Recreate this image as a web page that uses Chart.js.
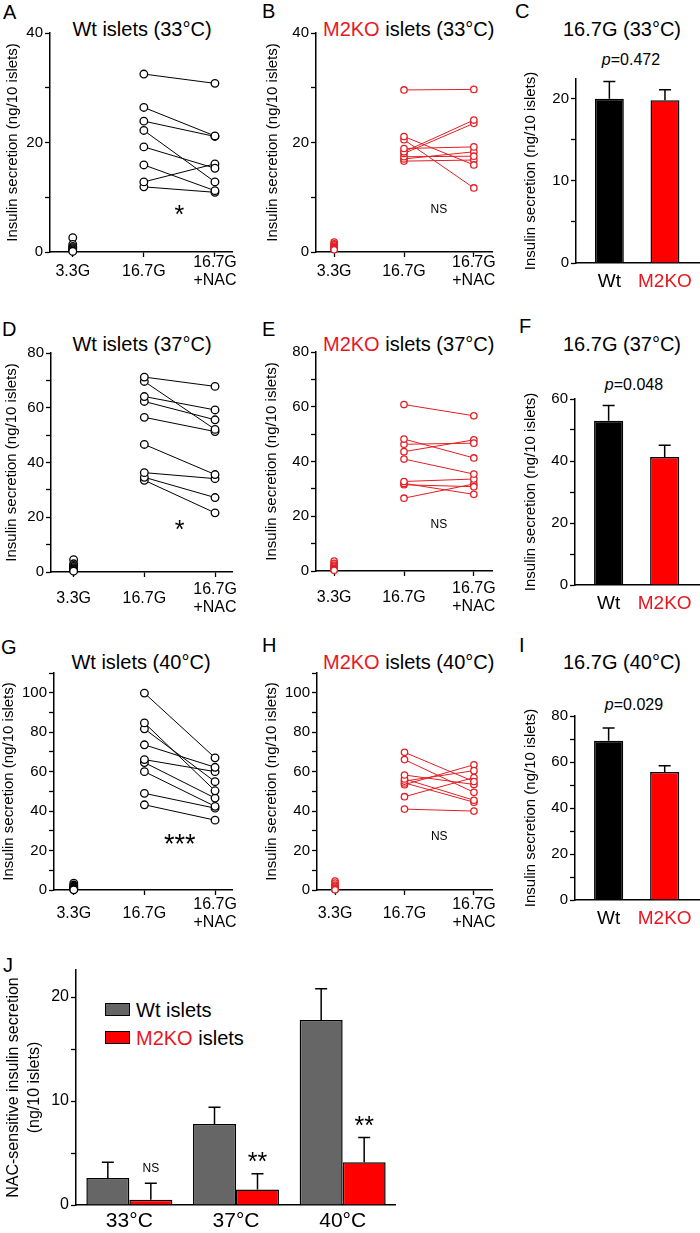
<!DOCTYPE html>
<html>
<head>
<meta charset="utf-8">
<script src="https://cdn.jsdelivr.net/npm/chart.js@4.4.0/dist/chart.umd.min.js"></script>
<style>
  body { margin: 0; background: #fff; width: 700px; height: 1233px; position: relative; overflow: hidden;
         font-family: "Liberation Sans", Arial, sans-serif; color: #000; }
  canvas { position: absolute; }
  .t { position: absolute; white-space: nowrap; line-height: 1; }
  .c { transform: translate(-50%, -50%); }
  .l { transform: translate(0, -50%); }
  .letter { font-size: 20px; }
  .ttl { font-size: 20px; }
  .pv { font-size: 16px; }
  .red { color: #e8171f; }
  .box { position: absolute; width: 25px; height: 13px; box-sizing: border-box; border: 1.5px solid #000; }
  .leg { font-size: 20px; }
</style>
</head>
<body>
<!-- panel letters -->
<div class="t letter l" style="left:3px;top:12px">A</div>
<div class="t letter l" style="left:262px;top:11px">B</div>
<div class="t letter l" style="left:515px;top:11px">C</div>
<div class="t letter l" style="left:2px;top:329px">D</div>
<div class="t letter l" style="left:262px;top:329px">E</div>
<div class="t letter l" style="left:519px;top:326px">F</div>
<div class="t letter l" style="left:1px;top:647px">G</div>
<div class="t letter l" style="left:262px;top:645px">H</div>
<div class="t letter l" style="left:519px;top:645px">I</div>
<div class="t letter l" style="left:3px;top:965px">J</div>

<!-- titles -->
<div class="t ttl c" style="left:142px;top:29px">Wt islets (33°C)</div>
<div class="t ttl l" style="left:323px;top:29px"><span class="red">M2KO</span> islets (33°C)</div>
<div class="t ttl c" style="left:622px;top:29px">16.7G (33°C)</div>
<div class="t ttl c" style="left:142px;top:344px">Wt islets (37°C)</div>
<div class="t ttl l" style="left:323px;top:344px"><span class="red">M2KO</span> islets (37°C)</div>
<div class="t ttl c" style="left:622px;top:344px">16.7G (37°C)</div>
<div class="t ttl c" style="left:141px;top:662px">Wt islets (40°C)</div>
<div class="t ttl l" style="left:323px;top:662px"><span class="red">M2KO</span> islets (40°C)</div>
<div class="t ttl c" style="left:622px;top:662px">16.7G (40°C)</div>

<!-- p values -->
<div class="t pv c" style="left:631px;top:60px"><i>p</i>=0.472</div>
<div class="t pv c" style="left:634px;top:385px"><i>p</i>=0.048</div>
<div class="t pv c" style="left:634px;top:705px"><i>p</i>=0.029</div>

<!-- legend of J -->
<div class="box" style="left:105px;top:1003px;background:#666"></div>
<div class="t leg l" style="left:136px;top:1010px">Wt islets</div>
<div class="box" style="left:105px;top:1031px;background:#ff0000"></div>
<div class="t leg l" style="left:136px;top:1038px"><span class="red">M2KO</span> islets</div>

<canvas id="cA"></canvas><canvas id="cB"></canvas><canvas id="cC"></canvas>
<canvas id="cD"></canvas><canvas id="cE"></canvas><canvas id="cF"></canvas>
<canvas id="cG"></canvas><canvas id="cH"></canvas><canvas id="cI"></canvas>
<canvas id="cJ"></canvas>

<script>
// Categories and tick labels
const xLabels = ['3.3G', '16.7G', ['16.7G', '+NAC']];
const barLabels = ['Wt', 'M2KO'];
const tempLabels = ['33°C', '37°C', '40°C'];

const ticks40 = [0, 10, 20, 30, 40];
const labels40 = [0, 20, 40];
const ticks80 = [0, 10, 20, 30, 40, 50, 60, 70, 80];
const labels80 = [0, 20, 40, 60, 80];
const ticks110 = [0, 10, 20, 30, 40, 50, 60, 70, 80, 90, 100, 110];
const labels110 = [0, 20, 40, 60, 80, 100];
const ticksC = [0, 5, 10, 15, 20];
const labelsC = [0, 10, 20];
const ticksF = [0, 10, 20, 30, 40, 50, 60];
const labelsF = [0, 20, 40, 60];
const ticksJ = [0, 5, 10, 15, 20];
const labelsJ = [0, 10, 20];

// A: Wt islets 33°C
const wt33Low = [2.6, 1.4, 1.0, 0.8, 0.6, 0.4, 0.2, 0.1];
const wt33Glc = [32.5, 26.4, 23.9, 22.2, 19.2, 15.9, 12.8, 11.9];
const wt33Nac = [30.8, 21.2, 21.1, 12.8, 15.3, 11.2, 16.1, 10.9];
// B: M2KO islets 33°C
const ko33Low = [1.8, 1.5, 1.3, 1.1, 0.9, 0.8, 0.6, 0.5, 0.4];
const ko33Glc = [29.6, 21.1, 20.5, 18.9, 18.3, 18.0, 17.4, 17.0, 16.6];
const ko33Nac = [29.7, 15.9, 11.7, 19.2, 24.1, 23.5, 17.5, 18.3, 16.8];
// D: Wt islets 37°C
const wt37Low = [4.5, 3.0, 2.4, 2.0, 1.6, 1.2, 0.9, 0.6, 0.3];
const wt37Glc = [71.2, 69.6, 64.1, 62.3, 56.5, 46.6, 36.3, 34.6, 33.5];
const wt37Nac = [67.8, 52.1, 59.2, 55.6, 51.3, 35.6, 34.1, 27.2, 21.6];
// E: M2KO islets 37°C
const ko37Low = [3.6, 2.8, 2.2, 1.8, 1.4, 1.0, 0.7, 0.5, 0.3];
const ko37Glc = [60.8, 48.2, 46.3, 43.6, 40.9, 32.7, 32.0, 31.5, 26.6];
const ko37Nac = [56.7, 41.3, 46.7, 47.9, 35.4, 33.6, 28.0, 30.8, 31.8];
// G: Wt islets 40°C
const wt40Low = [3.5, 2.5, 2.0, 1.5, 1.2, 0.8, 0.5, 0.3, 0.1];
const wt40Glc = [99.8, 84.7, 81.7, 73.6, 66.1, 64.6, 60.0, 49.0, 43.2];
const wt40Nac = [67.0, 50.3, 54.9, 62.2, 60.0, 46.6, 42.4, 41.5, 35.4];
// H: M2KO islets 40°C
const ko40Low = [4.5, 3.5, 2.5, 2.0, 1.5, 1.0, 0.6, 0.3, 0.1];
const ko40Glc = [69.8, 66.1, 58.3, 56.3, 55.2, 54.3, 53.4, 47.3, 41.0];
const ko40Nac = [55.0, 49.5, 53.5, 45.5, 60.5, 44.5, 63.5, 57.0, 40.0];

// C, F, I: 16.7G means (33, 37, 40°C)
const barWt = [20.0, 53.0, 69.2];
const barWtErr = [2.1, 4.9, 5.6];
const barKo = [19.8, 41.3, 55.6];
const barKoErr = [1.3, 3.8, 2.8];

// J: NAC-sensitive secretion
const nacWt = [2.6, 7.8, 17.8];
const nacWtErr = [1.5, 1.6, 3.0];
const nacKo = [0.5, 1.5, 4.1];
const nacKoErr = [1.6, 1.5, 2.4];

const FONT = '"Liberation Sans", Arial, sans-serif';
const RED = '#e31e24';
const YTITLE = 'Insulin secretion (ng/10 islets)';

Chart.defaults.font.family = FONT;
Chart.defaults.color = '#000';
Chart.defaults.animation = false;
Chart.defaults.plugins.legend.display = false;
Chart.defaults.plugins.tooltip.enabled = false;

// upward error bars on bars that carry an "errors" list
const errorBars = {
  id: 'errorBars',
  afterDatasetsDraw(chart) {
    const ctx = chart.ctx;
    const y = chart.scales.y;
    chart.data.datasets.forEach((ds, di) => {
      if (!ds.errors) return;
      chart.getDatasetMeta(di).data.forEach((bar, i) => {
        const d = ds.data[i];
        const v = typeof d === 'number' ? d : d.y;
        const top = y.getPixelForValue(v + ds.errors[i]);
        ctx.save();
        ctx.strokeStyle = '#000';
        ctx.lineWidth = 1.5;
        ctx.beginPath();
        ctx.moveTo(bar.x, bar.y);
        ctx.lineTo(bar.x, top);
        ctx.moveTo(bar.x - 6, top);
        ctx.lineTo(bar.x + 6, top);
        ctx.stroke();
        ctx.restore();
      });
    });
  }
};
Chart.register(errorBars);

// significance marks, placed in data units
function notes(items) {
  return {
    id: 'notes',
    afterDraw(chart) {
      const ctx = chart.ctx;
      ctx.save();
      ctx.fillStyle = '#000';
      ctx.textAlign = 'center';
      ctx.textBaseline = 'alphabetic';
      items.forEach(n => {
        ctx.font = n.size + 'px ' + FONT;
        const px = n.ds !== undefined
          ? chart.getDatasetMeta(n.ds).data[n.i].x
          : chart.scales.x.getPixelForValue(n.x);
        const py = chart.scales.y.getPixelForValue(n.y);
        const m = ctx.measureText(n.text);
        ctx.fillText(n.text, px, py + (m.actualBoundingBoxAscent - m.actualBoundingBoxDescent) / 2);
      });
      ctx.restore();
    }
  };
}

// size and move a canvas so its chart area lands on box
function place(id, box, yW, xH, padTop, padRight) {
  const cv = document.getElementById(id);
  const w = Math.round(box.r - box.l + yW + padRight);
  const h = Math.round(box.b - box.t + padTop + xH);
  cv.width = w;
  cv.height = h;
  cv.style.width = w + 'px';
  cv.style.height = h + 'px';
  cv.style.left = (box.l - yW) + 'px';
  cv.style.top = (box.t - padTop) + 'px';
  return cv;
}

function yScale(max, ticks, labels, yW, size, title) {
  return {
    min: 0, max: max,
    afterBuildTicks: s => { s.ticks = ticks.map(v => ({ value: v })); },
    afterFit: s => { s.width = yW; },
    ticks: { autoSkip: false, padding: 2, font: { size: size },
             callback: v => labels.includes(v) ? String(v) : '' },
    grid: { drawOnChartArea: false, tickLength: 5, tickColor: '#000', tickWidth: 1.3 },
    border: { color: '#000', width: 1.5 },
    title: { display: true, text: title, font: title.length === 2 ? { size: 16, lineHeight: 1.3 } : { size: 15 },
             padding: { top: 2, bottom: 2 } }
  };
}

function linePanel(id, box, o) {
  const xH = 56, padTop = 14, padRight = 25;
  const cv = place(id, box, o.yW, xH, padTop, padRight);
  const pts = { pointRadius: o.r, pointBorderWidth: 1.3, pointBorderColor: o.color,
                pointBackgroundColor: '#fff', clip: false };
  const sets = o.glc.map((g, i) => Object.assign({
    data: [{ x: 1, y: g }, { x: 2, y: o.nac[i] }],
    borderColor: o.color, borderWidth: 1
  }, pts));
  sets.push(Object.assign({ data: o.low.map(v => ({ x: 0, y: v })), showLine: false }, pts));
  new Chart(cv, {
    type: 'line',
    data: { datasets: sets },
    options: {
      responsive: false,
      layout: { padding: { top: padTop, right: padRight, left: 0, bottom: 0 } },
      scales: {
        x: {
          type: 'linear', min: o.xMin, max: o.xMax,
          afterBuildTicks: s => { s.ticks = [0, 1, 2].map(v => ({ value: v })); },
          afterFit: s => { s.height = xH; },
          ticks: { autoSkip: false, maxRotation: 0, crossAlign: 'center', padding: o.xPad,
                   font: { size: 16, lineHeight: 1.07 }, callback: (v, i) => xLabels[i] },
          grid: { drawOnChartArea: false, tickLength: 5, tickColor: '#000', tickWidth: 1.3 },
          border: { color: '#000', width: 1.5 }
        },
        y: yScale(o.yMax, o.ticks, o.labels, o.yW, 15, YTITLE)
      }
    },
    plugins: [notes(o.notes)]
  });
}

function barPanel(id, box, k, yMax, ticks, labels, yW) {
  const xH = 34, padTop = 14;
  const cv = place(id, box, yW, xH, padTop, 0);
  new Chart(cv, {
    type: 'bar',
    data: { datasets: [{
      data: [{ x: 0, y: barWt[k] }, { x: 1, y: barKo[k] }],
      errors: [barWtErr[k], barKoErr[k]],
      backgroundColor: ['#000', '#ff0000'], borderColor: '#000', borderWidth: 1.5,
      categoryPercentage: 1, barPercentage: 0.52
    }] },
    options: {
      responsive: false,
      layout: { padding: { top: padTop, right: 0, left: 0, bottom: 0 } },
      scales: {
        x: {
          type: 'linear', offset: false, min: -0.6, max: 1.63,
          afterBuildTicks: s => { s.ticks = [0, 1].map(v => ({ value: v })); },
          afterFit: s => { s.height = xH; },
          ticks: { autoSkip: false, maxRotation: 0, padding: 7, font: { size: 19 },
                   color: c => c.index === 1 ? '#e8171f' : '#000',
                   callback: (v, i) => barLabels[i] },
          grid: { offset: false, drawOnChartArea: false, drawTicks: false },
          border: { color: '#000', width: 1.5 }
        },
        y: yScale(yMax, ticks, labels, yW, 15, YTITLE)
      }
    }
  });
}

linePanel('cA', { l: 50, t: 33, r: 232, b: 252 }, {
  yW: 48, color: '#000', r: 3.8, low: wt33Low, glc: wt33Glc, nac: wt33Nac,
  yMax: 40, ticks: ticks40, labels: labels40, xMin: -0.32, xMax: 2.24, xPad: 6,
  notes: [{ x: 1.5, y: 7.6, text: '*', size: 25 }]
});
linePanel('cB', { l: 316, t: 33, r: 492, b: 252 }, {
  yW: 54, color: RED, r: 3.2, low: ko33Low, glc: ko33Glc, nac: ko33Nac,
  yMax: 40, ticks: ticks40, labels: labels40, xMin: -0.26, xMax: 2.26, xPad: 6,
  notes: [{ x: 1.5, y: 7.9, text: 'NS', size: 12 }]
});
barPanel('cC', { l: 576, t: 263 - 22.4 * 8.2, r: 700, b: 263 }, 0, 22.4, ticksC, labelsC, 56);

linePanel('cD', { l: 51, t: 353, r: 232, b: 572 }, {
  yW: 50, color: '#000', r: 3.8, low: wt37Low, glc: wt37Glc, nac: wt37Nac,
  yMax: 80, ticks: ticks80, labels: labels80, xMin: -0.32, xMax: 2.24, xPad: 13,
  notes: [{ x: 1.5, y: 17.2, text: '*', size: 25 }]
});
linePanel('cE', { l: 316, t: 352, r: 492, b: 571 }, {
  yW: 55, color: RED, r: 3.2, low: ko37Low, glc: ko37Glc, nac: ko37Nac,
  yMax: 80, ticks: ticks80, labels: labels80, xMin: -0.26, xMax: 2.26, xPad: 13,
  notes: [{ x: 1.5, y: 17.5, text: 'NS', size: 12 }]
});
barPanel('cF', { l: 575, t: 399, r: 700, b: 585 }, 1, 60, ticksF, labelsF, 55);

linePanel('cG', { l: 54, t: 889.3 - 110 * 1.97, r: 232, b: 889.3 }, {
  yW: 56, color: '#000', r: 3.8, low: wt40Low, glc: wt40Glc, nac: wt40Nac,
  yMax: 110, ticks: ticks110, labels: labels110, xMin: -0.28, xMax: 2.24, xPad: 10,
  notes: [{ x: 1.5, y: 26, text: '***', size: 27 }]
});
linePanel('cH', { l: 317, t: 889.3 - 110 * 1.97, r: 492, b: 889.3 }, {
  yW: 56, color: RED, r: 3.2, low: ko40Low, glc: ko40Glc, nac: ko40Nac,
  yMax: 110, ticks: ticks110, labels: labels110, xMin: -0.26, xMax: 2.26, xPad: 10,
  notes: [{ x: 1.5, y: 27.4, text: 'NS', size: 12 }]
});
barPanel('cI', { l: 575, t: 716, r: 700, b: 900 }, 2, 80, ticks80, labels80, 55);

// J: grouped bars
(function () {
  const box = { l: 76, t: 1205 - 22.6 * 10.4, r: 396, b: 1205 };
  const yW = 75, xH = 30, padTop = 14;
  const cv = place('cJ', box, yW, xH, padTop, 0);
  const style = { borderColor: '#000', borderWidth: 1.5, categoryPercentage: 0.806, barPercentage: 1 };
  new Chart(cv, {
    type: 'bar',
    data: {
      labels: tempLabels,
      datasets: [
        Object.assign({ label: 'Wt islets', data: nacWt, errors: nacWtErr, backgroundColor: '#666' }, style),
        Object.assign({ label: 'M2KO islets', data: nacKo, errors: nacKoErr, backgroundColor: '#ff0000' }, style)
      ]
    },
    options: {
      responsive: false,
      layout: { padding: { top: padTop, right: 0, left: 0, bottom: 0 } },
      scales: {
        x: {
          afterFit: s => { s.height = xH; },
          ticks: { padding: 4, font: { size: 21 } },
          grid: { drawOnChartArea: false, drawTicks: false },
          border: { color: '#000', width: 1.5 }
        },
        y: yScale(22.6, ticksJ, labelsJ, yW, 16, ['NAC-sensitive insulin secretion', '(ng/10 islets)'])
      }
    },
    plugins: [notes([
      { ds: 1, i: 0, y: 3.6, text: 'NS', size: 12 },
      { ds: 1, i: 1, y: 4.6, text: '**', size: 25 },
      { ds: 1, i: 2, y: 8.1, text: '**', size: 25 }
    ])]
  });
})();
</script>
</body>
</html>
